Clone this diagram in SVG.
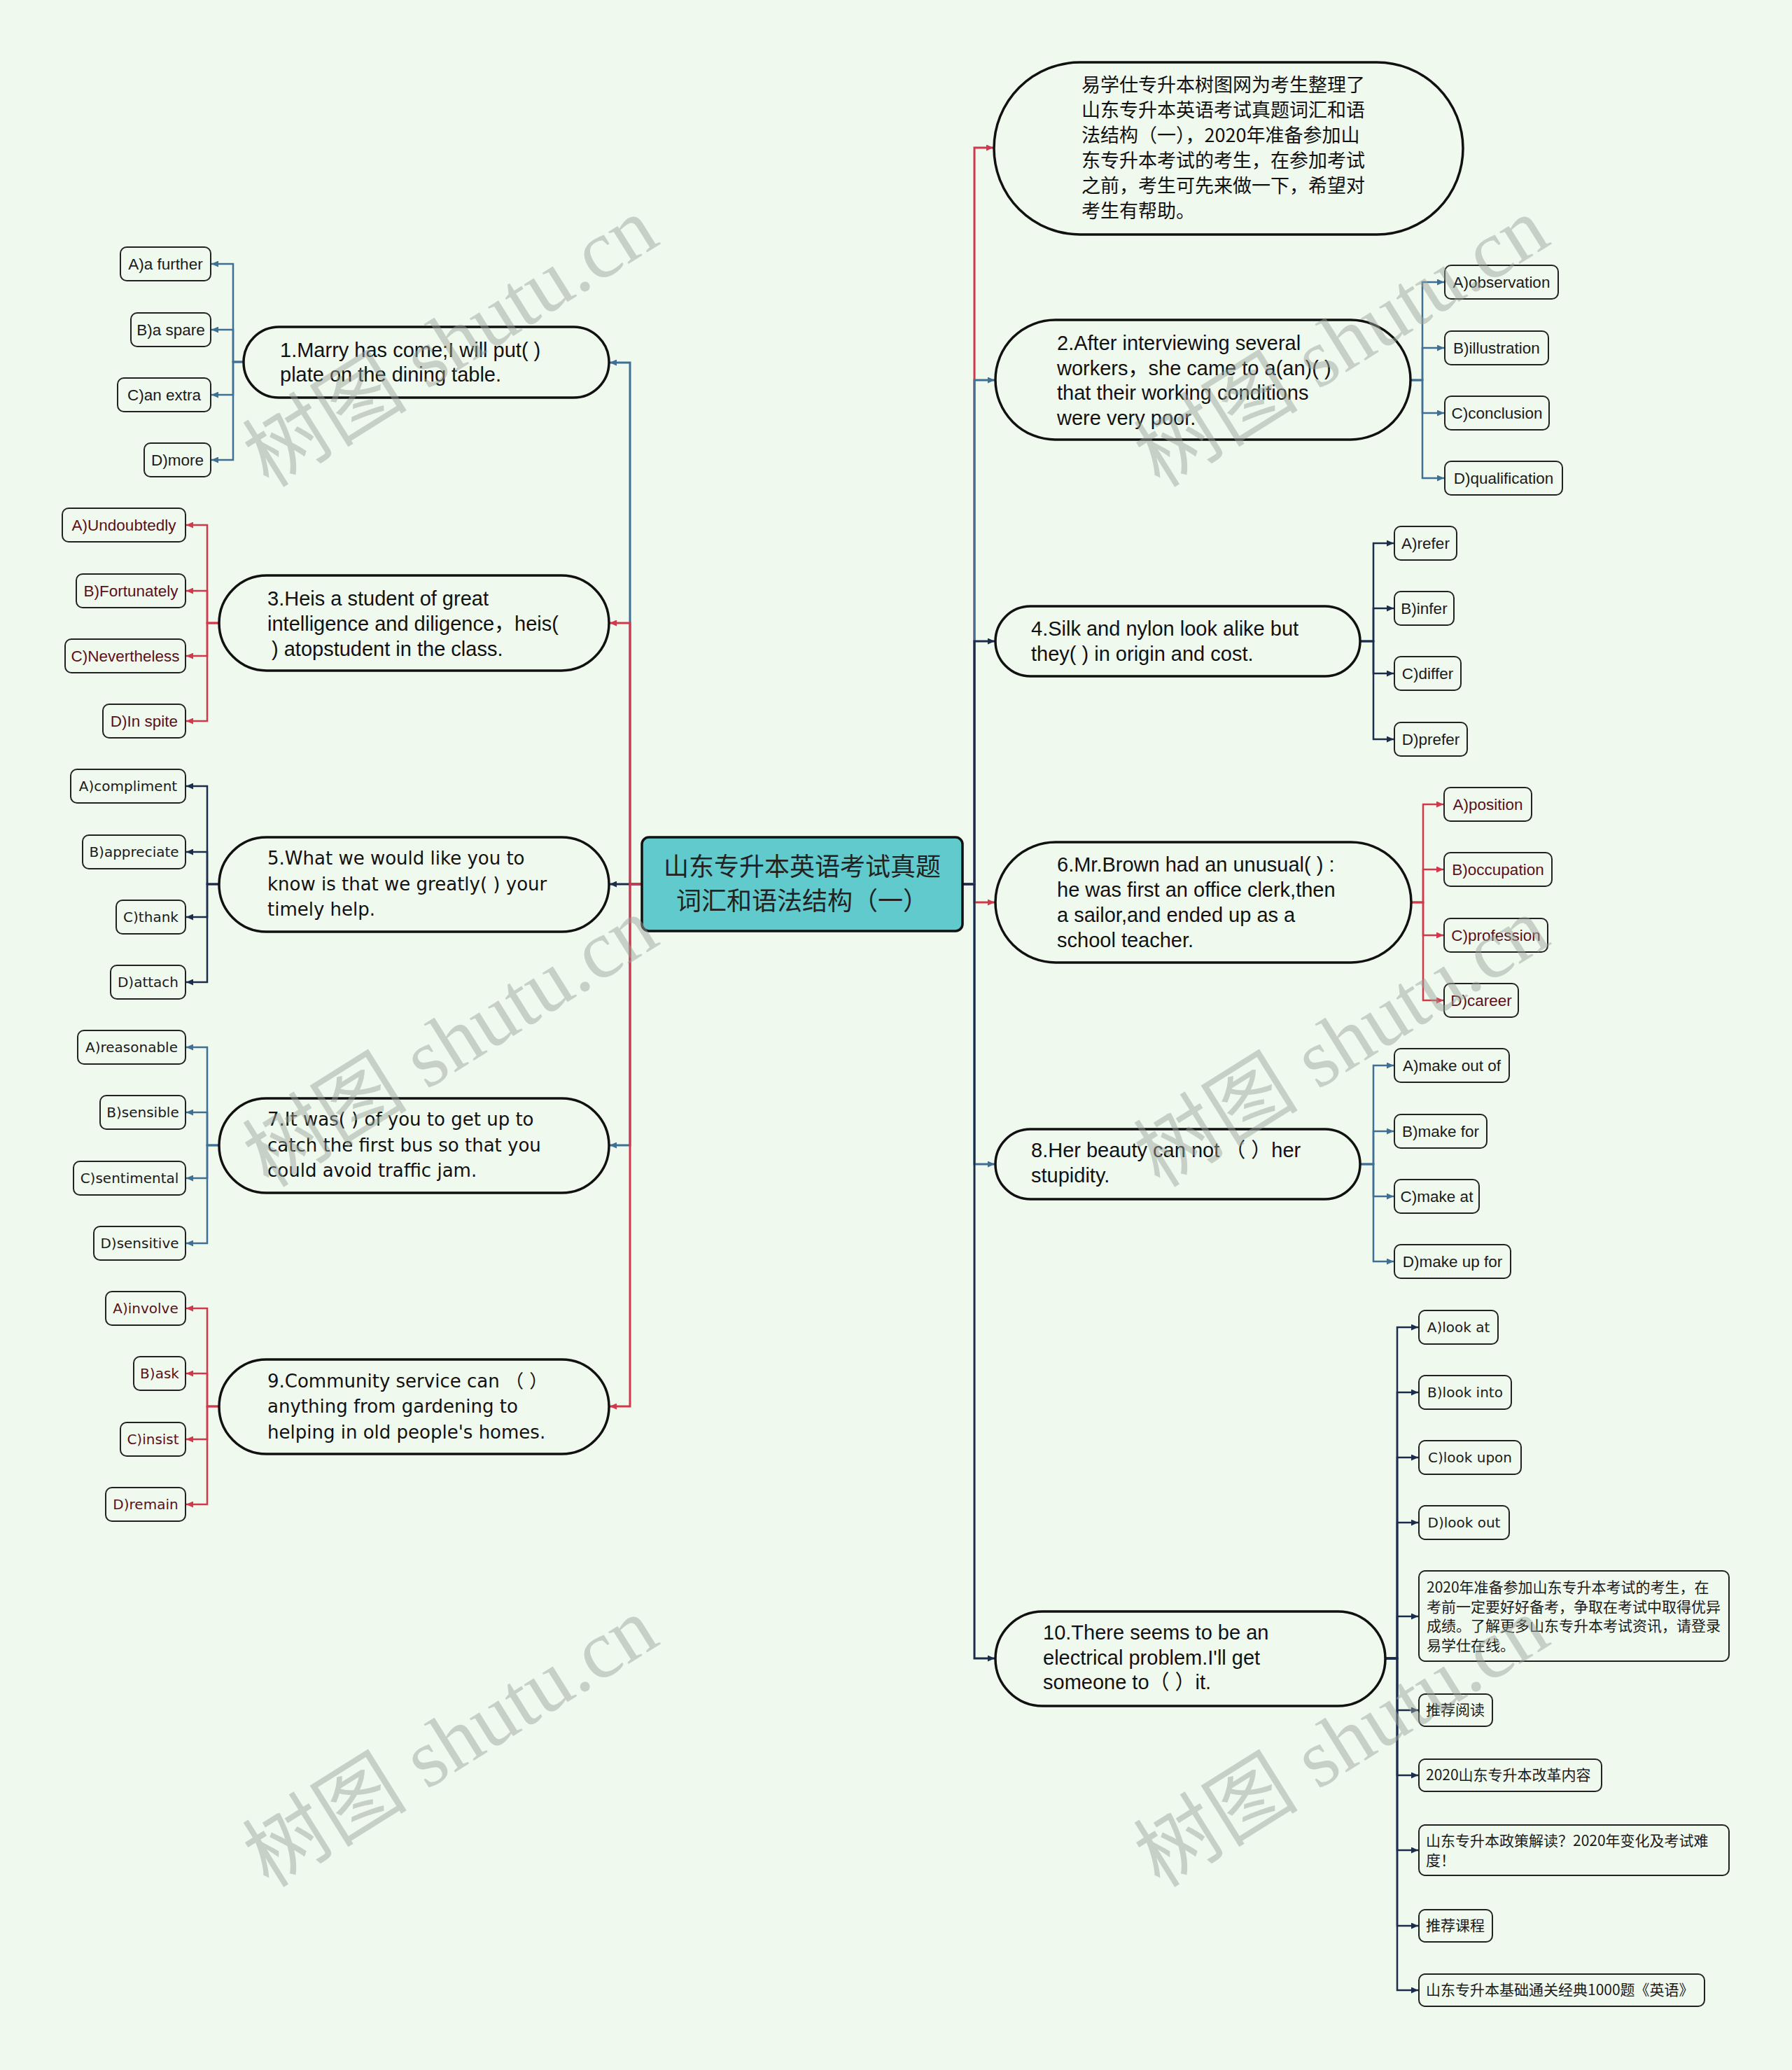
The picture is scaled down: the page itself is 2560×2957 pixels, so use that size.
<svg xmlns="http://www.w3.org/2000/svg" width="2560" height="2957" viewBox="0 0 2560 2957">
<style>
.n1{fill:#f0f9ee;stroke:#111;stroke-width:3.5}
.opt{fill:#f0f9ee;stroke:#222;stroke-width:2}
.t{font-family:"Liberation Sans","Noto Sans CJK SC",sans-serif;font-size:29px;fill:#111}
.tw{font-family:"DejaVu Sans","Noto Sans CJK SC",sans-serif;font-size:26px;fill:#111}
.o{font-family:"Liberation Sans","Noto Sans CJK SC",sans-serif;font-size:22.5px;fill:#1a1a1a;text-anchor:middle}
.ow{font-family:"DejaVu Sans","Noto Sans CJK SC",sans-serif;font-size:20px;fill:#1a1a1a;text-anchor:middle}
.cj{font-family:"Noto Sans CJK SC","Liberation Sans",sans-serif;font-size:21px;fill:#1a1a1a}
.rd{fill:#5a1018}
.red{stroke:#d0384b;fill:none}
.blue{stroke:#3f6f94;fill:none}
.navy{stroke:#1b2d4b;fill:none}
.main path{stroke-width:3}
.sub path{stroke-width:2.5}
.wm{font-family:"Liberation Serif","Noto Sans CJK SC",serif;font-size:118px;fill:#9aa39a;fill-opacity:0.48}
</style>
<defs>
<marker id="ar" markerUnits="userSpaceOnUse" markerWidth="10" markerHeight="9" refX="10" refY="4.5" orient="auto"><path d="M0,0 L10,4.5 L0,9 z" fill="#d0384b"/></marker>
<marker id="ab" markerUnits="userSpaceOnUse" markerWidth="10" markerHeight="9" refX="10" refY="4.5" orient="auto"><path d="M0,0 L10,4.5 L0,9 z" fill="#3f6f94"/></marker>
<marker id="an" markerUnits="userSpaceOnUse" markerWidth="10" markerHeight="9" refX="10" refY="4.5" orient="auto"><path d="M0,0 L10,4.5 L0,9 z" fill="#1b2d4b"/></marker>
</defs>
<rect width="2560" height="2957" fill="#f0f9ee"/>

<g id="connectors">
<g class="main">
<path class="blue" marker-end="url(#ab)" d="M917,1263 H900 V518 H871"/>
<path class="red" marker-end="url(#ar)" d="M917,1263 H900 V890 H871"/>
<path class="navy" marker-end="url(#an)" d="M917,1263 H871"/>
<path class="blue" marker-end="url(#ab)" d="M917,1263 H900 V1636 H871"/>
<path class="red" marker-end="url(#ar)" d="M917,1263 H900 V2009 H871"/>
<path class="red" marker-end="url(#ar)" d="M1375,1263 H1392 V211 H1419"/>
<path class="blue" marker-end="url(#ab)" d="M1375,1263 H1392 V543 H1421"/>
<path class="navy" marker-end="url(#an)" d="M1375,1263 H1392 V916 H1421"/>
<path class="red" marker-end="url(#ar)" d="M1375,1263 H1392 V1289 H1421"/>
<path class="blue" marker-end="url(#ab)" d="M1375,1263 H1392 V1663 H1421"/>
<path class="navy" marker-end="url(#an)" d="M1375,1263 H1392 V2369 H1421"/>
</g>
<g class="sub">
<path class="blue" marker-end="url(#ab)" d="M348,517 H333 V377 H302"/>
<path class="blue" marker-end="url(#ab)" d="M348,517 H333 V471 H302"/>
<path class="blue" marker-end="url(#ab)" d="M348,517 H333 V564 H302"/>
<path class="blue" marker-end="url(#ab)" d="M348,517 H333 V657 H302"/>
<path class="red" marker-end="url(#ar)" d="M313,890 H296 V750 H266"/>
<path class="red" marker-end="url(#ar)" d="M313,890 H296 V844 H266"/>
<path class="red" marker-end="url(#ar)" d="M313,890 H296 V937 H266"/>
<path class="red" marker-end="url(#ar)" d="M313,890 H296 V1030 H266"/>
<path class="navy" marker-end="url(#an)" d="M313,1263 H296 V1123 H266"/>
<path class="navy" marker-end="url(#an)" d="M313,1263 H296 V1217 H266"/>
<path class="navy" marker-end="url(#an)" d="M313,1263 H296 V1310 H266"/>
<path class="navy" marker-end="url(#an)" d="M313,1263 H296 V1403 H266"/>
<path class="blue" marker-end="url(#ab)" d="M313,1636 H296 V1496 H266"/>
<path class="blue" marker-end="url(#ab)" d="M313,1636 H296 V1589 H266"/>
<path class="blue" marker-end="url(#ab)" d="M313,1636 H296 V1683 H266"/>
<path class="blue" marker-end="url(#ab)" d="M313,1636 H296 V1776 H266"/>
<path class="red" marker-end="url(#ar)" d="M313,2009 H296 V1869 H266"/>
<path class="red" marker-end="url(#ar)" d="M313,2009 H296 V1962 H266"/>
<path class="red" marker-end="url(#ar)" d="M313,2009 H296 V2056 H266"/>
<path class="red" marker-end="url(#ar)" d="M313,2009 H296 V2149 H266"/>
<path class="blue" marker-end="url(#ab)" d="M2015,543 H2032 V403 H2063"/>
<path class="blue" marker-end="url(#ab)" d="M2015,543 H2032 V497 H2063"/>
<path class="blue" marker-end="url(#ab)" d="M2015,543 H2032 V590 H2063"/>
<path class="blue" marker-end="url(#ab)" d="M2015,543 H2032 V683 H2063"/>
<path class="navy" marker-end="url(#an)" d="M1943,916 H1962 V776 H1991"/>
<path class="navy" marker-end="url(#an)" d="M1943,916 H1962 V869 H1991"/>
<path class="navy" marker-end="url(#an)" d="M1943,916 H1962 V962 H1991"/>
<path class="navy" marker-end="url(#an)" d="M1943,916 H1962 V1056 H1991"/>
<path class="red" marker-end="url(#ar)" d="M2016,1289 H2033 V1149 H2062"/>
<path class="red" marker-end="url(#ar)" d="M2016,1289 H2033 V1242 H2062"/>
<path class="red" marker-end="url(#ar)" d="M2016,1289 H2033 V1336 H2062"/>
<path class="red" marker-end="url(#ar)" d="M2016,1289 H2033 V1429 H2062"/>
<path class="blue" marker-end="url(#ab)" d="M1943,1663 H1962 V1522 H1991"/>
<path class="blue" marker-end="url(#ab)" d="M1943,1663 H1962 V1616 H1991"/>
<path class="blue" marker-end="url(#ab)" d="M1943,1663 H1962 V1709 H1991"/>
<path class="blue" marker-end="url(#ab)" d="M1943,1663 H1962 V1802 H1991"/>
<path class="navy" marker-end="url(#an)" d="M1979,2369 H1996 V1896 H2026"/>
<path class="navy" marker-end="url(#an)" d="M1979,2369 H1996 V1989 H2026"/>
<path class="navy" marker-end="url(#an)" d="M1979,2369 H1996 V2082 H2026"/>
<path class="navy" marker-end="url(#an)" d="M1979,2369 H1996 V2175 H2026"/>
<path class="navy" marker-end="url(#an)" d="M1979,2369 H1996 V2309 H2026"/>
<path class="navy" marker-end="url(#an)" d="M1979,2369 H1996 V2443 H2026"/>
<path class="navy" marker-end="url(#an)" d="M1979,2369 H1996 V2536 H2026"/>
<path class="navy" marker-end="url(#an)" d="M1979,2369 H1996 V2643 H2026"/>
<path class="navy" marker-end="url(#an)" d="M1979,2369 H1996 V2751 H2026"/>
<path class="navy" marker-end="url(#an)" d="M1979,2369 H1996 V2843 H2026"/>
</g>
</g>

<g id="root">
<rect x="917" y="1196" width="458" height="134" rx="10" fill="#60cacc" stroke="#111" stroke-width="3.5"/>
<text x="1146" y="1251" text-anchor="middle" style="font-family:'Noto Sans CJK SC',sans-serif;font-size:36px;fill:#222">山东专升本英语考试真题</text>
<text x="1146" y="1300" text-anchor="middle" style="font-family:'Noto Sans CJK SC',sans-serif;font-size:36px;fill:#222">词汇和语法结构（一）</text>
</g>

<g id="intro">
<rect class="n1" x="1420" y="89" width="670" height="246" rx="123"/>
<text class="t" style="font-family:'Noto Sans CJK SC',sans-serif;font-size:27px" x="1545">
<tspan x="1545" y="131">易学仕专升本树图网为考生整理了</tspan>
<tspan x="1545" y="167">山东专升本英语考试真题词汇和语</tspan>
<tspan x="1545" y="203">法结构（一），2020年准备参加山</tspan>
<tspan x="1545" y="239">东专升本考试的考生，在参加考试</tspan>
<tspan x="1545" y="275">之前，考生可先来做一下，希望对</tspan>
<tspan x="1545" y="311">考生有帮助。</tspan>
</text>
</g>

<g id="q1">
<rect class="n1" x="348" y="467" width="522" height="101" rx="50.5"/>
<text class="t"><tspan x="400" y="510">1.Marry has come;I will put( )</tspan><tspan x="400" y="545">plate on the dining table.</tspan></text>
</g>
<g id="q1a"><rect class="opt" x="172" y="353" width="129" height="48" rx="9"/><text class="o" x="236.5" y="385">A)a further</text></g>
<g id="q1b"><rect class="opt" x="187" y="447" width="114" height="48" rx="9"/><text class="o" x="244" y="479">B)a spare</text></g>
<g id="q1c"><rect class="opt" x="168" y="540" width="133" height="48" rx="9"/><text class="o" x="234.5" y="572">C)an extra</text></g>
<g id="q1d"><rect class="opt" x="206" y="633" width="95" height="48" rx="9"/><text class="o" x="253.5" y="665">D)more</text></g>

<g id="q3">
<rect class="n1" x="313" y="822" width="557" height="136" rx="68"/>
<text class="t"><tspan x="382" y="865">3.Heis a student of great</tspan><tspan x="382" y="901">intelligence and diligence，heis(</tspan><tspan x="388" y="937">) atopstudent in the class.</tspan></text>
</g>
<g id="q3a"><rect class="opt" x="89" y="726" width="176" height="48" rx="9"/><text class="o rd" x="177" y="758">A)Undoubtedly</text></g>
<g id="q3b"><rect class="opt" x="109" y="820" width="156" height="48" rx="9"/><text class="o rd" x="187" y="852">B)Fortunately</text></g>
<g id="q3c"><rect class="opt" x="93" y="913" width="172" height="48" rx="9"/><text class="o rd" x="179" y="945">C)Nevertheless</text></g>
<g id="q3d"><rect class="opt" x="147" y="1006" width="118" height="48" rx="9"/><text class="o rd" x="206" y="1038">D)In spite</text></g>

<g id="q5">
<rect class="n1" x="313" y="1196" width="557" height="135" rx="67.5"/>
<text class="tw"><tspan x="382" y="1235">5.What we would like you to</tspan><tspan x="382" y="1272">know is that we greatly( ) your</tspan><tspan x="382" y="1308">timely help.</tspan></text>
</g>
<g id="q5a"><rect class="opt" x="101" y="1099" width="164" height="48" rx="9"/><text class="ow" x="183" y="1130">A)compliment</text></g>
<g id="q5b"><rect class="opt" x="118" y="1193" width="147" height="48" rx="9"/><text class="ow" x="191.5" y="1224">B)appreciate</text></g>
<g id="q5c"><rect class="opt" x="166" y="1286" width="99" height="48" rx="9"/><text class="ow" x="215.5" y="1317">C)thank</text></g>
<g id="q5d"><rect class="opt" x="158" y="1379" width="107" height="48" rx="9"/><text class="ow" x="211.5" y="1410">D)attach</text></g>

<g id="q7">
<rect class="n1" x="313" y="1569" width="557" height="135" rx="67.5"/>
<text class="tw"><tspan x="382" y="1608">7.It was( ) of you to get up to</tspan><tspan x="382" y="1645">catch the first bus so that you</tspan><tspan x="382" y="1681">could avoid traffic jam.</tspan></text>
</g>
<g id="q7a"><rect class="opt" x="111" y="1472" width="154" height="48" rx="9"/><text class="ow" x="188" y="1503">A)reasonable</text></g>
<g id="q7b"><rect class="opt" x="143" y="1565" width="122" height="48" rx="9"/><text class="ow" x="204" y="1596">B)sensible</text></g>
<g id="q7c"><rect class="opt" x="105" y="1659" width="160" height="48" rx="9"/><text class="ow" x="185" y="1690">C)sentimental</text></g>
<g id="q7d"><rect class="opt" x="134" y="1752" width="131" height="48" rx="9"/><text class="ow" x="199.5" y="1783">D)sensitive</text></g>

<g id="q9">
<rect class="n1" x="313" y="1942" width="557" height="135" rx="67.5"/>
<text class="tw"><tspan x="382" y="1982">9.Community service can （ ）</tspan><tspan x="382" y="2018">anything from gardening to</tspan><tspan x="382" y="2055">helping in old people's homes.</tspan></text>
</g>
<g id="q9a"><rect class="opt" x="151" y="1845" width="114" height="48" rx="9"/><text class="ow rd" x="208" y="1876">A)involve</text></g>
<g id="q9b"><rect class="opt" x="191" y="1938" width="74" height="48" rx="9"/><text class="ow rd" x="228" y="1969">B)ask</text></g>
<g id="q9c"><rect class="opt" x="172" y="2032" width="93" height="48" rx="9"/><text class="ow rd" x="218.5" y="2063">C)insist</text></g>
<g id="q9d"><rect class="opt" x="151" y="2125" width="114" height="48" rx="9"/><text class="ow rd" x="208" y="2156">D)remain</text></g>

<g id="q2">
<rect class="n1" x="1422" y="457" width="593" height="171" rx="85.5"/>
<text class="t"><tspan x="1510" y="500">2.After interviewing several</tspan><tspan x="1510" y="536">workers，she came to a(an)( )</tspan><tspan x="1510" y="571">that their working conditions</tspan><tspan x="1510" y="607">were very poor.</tspan></text>
</g>
<g id="q2a"><rect class="opt" x="2064" y="379" width="162" height="48" rx="9"/><text class="o" x="2145" y="411">A)observation</text></g>
<g id="q2b"><rect class="opt" x="2064" y="473" width="148" height="48" rx="9"/><text class="o" x="2138" y="505">B)illustration</text></g>
<g id="q2c"><rect class="opt" x="2064" y="566" width="149" height="48" rx="9"/><text class="o" x="2138.5" y="598">C)conclusion</text></g>
<g id="q2d"><rect class="opt" x="2064" y="659" width="168" height="48" rx="9"/><text class="o" x="2148" y="691">D)qualification</text></g>

<g id="q4">
<rect class="n1" x="1422" y="866" width="521" height="100" rx="50"/>
<text class="t"><tspan x="1473" y="908">4.Silk and nylon look alike but</tspan><tspan x="1473" y="944">they( ) in origin and cost.</tspan></text>
</g>
<g id="q4a"><rect class="opt" x="1992" y="752" width="89" height="48" rx="9"/><text class="o" x="2036.5" y="784">A)refer</text></g>
<g id="q4b"><rect class="opt" x="1992" y="845" width="85" height="48" rx="9"/><text class="o" x="2034.5" y="877">B)infer</text></g>
<g id="q4c"><rect class="opt" x="1992" y="938" width="95" height="48" rx="9"/><text class="o" x="2039.5" y="970">C)differ</text></g>
<g id="q4d"><rect class="opt" x="1992" y="1032" width="104" height="48" rx="9"/><text class="o" x="2044" y="1064">D)prefer</text></g>

<g id="q6">
<rect class="n1" x="1422" y="1203" width="594" height="172" rx="86"/>
<text class="t"><tspan x="1510" y="1245">6.Mr.Brown had an unusual( ) :</tspan><tspan x="1510" y="1281">he was first an office clerk,then</tspan><tspan x="1510" y="1317">a sailor,and ended up as a</tspan><tspan x="1510" y="1353">school teacher.</tspan></text>
</g>
<g id="q6a"><rect class="opt" x="2063" y="1125" width="125" height="48" rx="9"/><text class="o rd" x="2125.5" y="1157">A)position</text></g>
<g id="q6b"><rect class="opt" x="2063" y="1218" width="154" height="48" rx="9"/><text class="o rd" x="2140" y="1250">B)occupation</text></g>
<g id="q6c"><rect class="opt" x="2063" y="1312" width="148" height="48" rx="9"/><text class="o rd" x="2137" y="1344">C)profession</text></g>
<g id="q6d"><rect class="opt" x="2063" y="1405" width="106" height="48" rx="9"/><text class="o rd" x="2116" y="1437">D)career</text></g>

<g id="q8">
<rect class="n1" x="1422" y="1613" width="521" height="100" rx="50"/>
<text class="t"><tspan x="1473" y="1653">8.Her beauty can not （ ）her</tspan><tspan x="1473" y="1689">stupidity.</tspan></text>
</g>
<g id="q8a"><rect class="opt" x="1992" y="1498" width="164" height="48" rx="9"/><text class="o" x="2074" y="1530">A)make out of</text></g>
<g id="q8b"><rect class="opt" x="1992" y="1592" width="132" height="48" rx="9"/><text class="o" x="2058" y="1624">B)make for</text></g>
<g id="q8c"><rect class="opt" x="1992" y="1685" width="121" height="48" rx="9"/><text class="o" x="2052.5" y="1717">C)make at</text></g>
<g id="q8d"><rect class="opt" x="1992" y="1778" width="166" height="48" rx="9"/><text class="o" x="2075" y="1810">D)make up for</text></g>

<g id="q10">
<rect class="n1" x="1422" y="2302" width="557" height="135" rx="67.5"/>
<text class="t"><tspan x="1490" y="2342">10.There seems to be an</tspan><tspan x="1490" y="2378">electrical problem.I'll get</tspan><tspan x="1490" y="2413">someone to（ ）it.</tspan></text>
</g>
<g id="q10a"><rect class="opt" x="2027" y="1872" width="113" height="48" rx="9"/><text class="ow" x="2083.5" y="1903">A)look at</text></g>
<g id="q10b"><rect class="opt" x="2027" y="1965" width="132" height="48" rx="9"/><text class="ow" x="2093" y="1996">B)look into</text></g>
<g id="q10c"><rect class="opt" x="2027" y="2058" width="146" height="48" rx="9"/><text class="ow" x="2100" y="2089">C)look upon</text></g>
<g id="q10d"><rect class="opt" x="2027" y="2151" width="129" height="48" rx="9"/><text class="ow" x="2091.5" y="2182">D)look out</text></g>
<g id="q10e"><rect class="opt" x="2027" y="2244" width="443" height="129" rx="9"/>
<text class="cj"><tspan x="2038" y="2275">2020年准备参加山东专升本考试的考生，在</tspan><tspan x="2038" y="2303">考前一定要好好备考，争取在考试中取得优异</tspan><tspan x="2038" y="2330">成绩。了解更多山东专升本考试资讯，请登录</tspan><tspan x="2038" y="2358">易学仕在线。</tspan></text></g>
<g id="q10f"><rect class="opt" x="2027" y="2420" width="105" height="46" rx="9"/><text class="cj" x="2037" y="2450">推荐阅读</text></g>
<g id="q10g"><rect class="opt" x="2027" y="2513" width="261" height="46" rx="9"/><text class="cj" x="2037" y="2543">2020山东专升本改革内容</text></g>
<g id="q10h"><rect class="opt" x="2027" y="2607" width="443" height="72" rx="9"/><text class="cj"><tspan x="2037" y="2637">山东专升本政策解读？2020年变化及考试难</tspan><tspan x="2037" y="2665">度！</tspan></text></g>
<g id="q10i"><rect class="opt" x="2027" y="2728" width="105" height="46" rx="9"/><text class="cj" x="2037" y="2758">推荐课程</text></g>
<g id="q10j"><rect class="opt" x="2027" y="2820" width="408" height="46" rx="9"/><text class="cj" x="2037" y="2850">山东专升本基础通关经典1000题《英语》</text></g>

<g id="watermarks">
<text class="wm" transform="translate(384,698) rotate(-32)">树图 shutu.cn</text>
<text class="wm" transform="translate(1657,698) rotate(-32)">树图 shutu.cn</text>
<text class="wm" transform="translate(384,1698) rotate(-32)">树图 shutu.cn</text>
<text class="wm" transform="translate(1657,1698) rotate(-32)">树图 shutu.cn</text>
<text class="wm" transform="translate(384,2698) rotate(-32)">树图 shutu.cn</text>
<text class="wm" transform="translate(1657,2698) rotate(-32)">树图 shutu.cn</text>
</g>
</svg>
